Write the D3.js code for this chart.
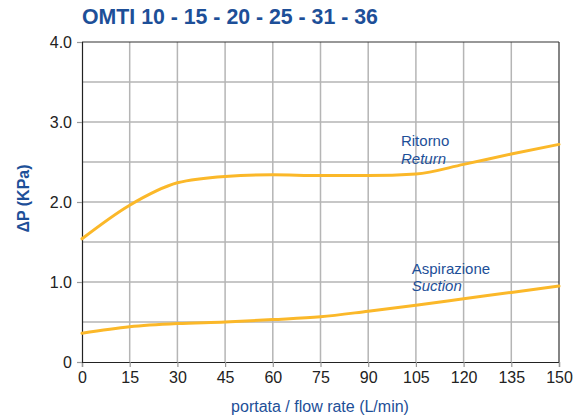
<!DOCTYPE html>
<html><head><meta charset="utf-8">
<script src="https://cdn.jsdelivr.net/npm/d3@7"></script>
<style>
body{margin:0;background:#fff;}
svg{display:block;font-family:"Liberation Sans",Arial,Helvetica,sans-serif;}
</style></head>
<body><svg id="c" width="578" height="419"></svg>
<script>
const title = "OMTI 10 - 15 - 20 - 25 - 31 - 36";
const xLabel = "portata / flow rate (L/min)";
const yLabel = "ΔP (KPa)";
const flow = [0, 15, 30, 45, 60, 75, 90, 105, 120, 135, 150];
const returnDP = [1.54, 1.96, 2.24, 2.32, 2.34, 2.33, 2.33, 2.35, 2.47, 2.60, 2.72];
const suctionDP = [0.36, 0.44, 0.48, 0.50, 0.53, 0.565, 0.635, 0.71, 0.79, 0.87, 0.95];
const xTicks = [0, 15, 30, 45, 60, 75, 90, 105, 120, 135, 150];
const yTicks = [0, 1, 2, 3, 4];
const yTickLabels = ["0", "1.0", "2.0", "3.0", "4.0"];
const yGrid = [0.5, 1, 1.5, 2, 2.5, 3, 3.5];
const labels = [
  {name:"Ritorno", en:"Return", x:100.3, y:2.70},
  {name:"Aspirazione", en:"Suction", x:103.7, y:1.105}
];

const svg = d3.select("#c");
const x = d3.scaleLinear().domain([0,150]).range([82,559]);
const y = d3.scaleLinear().domain([0,4]).range([362,42]);
const blue = "#1d4f98", curve = "#fbb829", grid = "#b5b5b5";

// grid
svg.append("g").selectAll("line").data(xTicks.slice(1,-1)).join("line")
  .attr("x1",d=>x(d)).attr("x2",d=>x(d)).attr("y1",y(0)).attr("y2",y(4))
  .attr("stroke",grid).attr("stroke-width",1.5);
svg.append("g").selectAll("line").data(yGrid).join("line")
  .attr("x1",x(0)).attr("x2",x(150)).attr("y1",d=>y(d)).attr("y2",d=>y(d))
  .attr("stroke",grid).attr("stroke-width",1.5);

// frame top/right
svg.append("line").attr("x1",x(0)).attr("x2",x(150)).attr("y1",y(4)).attr("y2",y(4)).attr("stroke","#333").attr("stroke-width",1.2);
svg.append("line").attr("x1",x(150)).attr("x2",x(150)).attr("y1",y(0)).attr("y2",y(4)).attr("stroke","#333").attr("stroke-width",1.2);

// axes
const xAxis = svg.append("g").attr("transform",`translate(0,${y(0)})`)
  .call(d3.axisBottom(x).tickValues(xTicks).tickSize(5).tickPadding(5).tickFormat(d3.format("d")));
const yAxis = svg.append("g").attr("transform",`translate(${x(0)},0)`)
  .call(d3.axisLeft(y).tickValues(yTicks).tickSize(5).tickPadding(5).tickFormat((d,i)=>yTickLabels[i]));
[xAxis,yAxis].forEach(a=>{
  a.select(".domain").attr("stroke","#222").attr("stroke-width",1.2);
  a.selectAll(".tick line").attr("stroke","#999").attr("stroke-width",1.2);
  a.selectAll("text").attr("fill","#222").style("font-size","16px").style("font-family","Liberation Sans, Arial, sans-serif");
});

// curves
const line = d3.line().x((d,i)=>x(flow[i])).y(d=>y(d)).curve(d3.curveMonotoneX);
[returnDP, suctionDP].forEach(s=>{
  svg.append("path").attr("d",line(s)).attr("fill","none").attr("stroke",curve).attr("stroke-width",3).attr("stroke-linecap","round");
});

// labels
labels.forEach(l=>{
  svg.append("text").attr("x",x(l.x)).attr("y",y(l.y)).attr("fill",blue)
    .style("font-size","15px").text(l.name);
  svg.append("text").attr("x",x(l.x)).attr("y",y(l.y)+17.5).attr("fill",blue)
    .style("font-size","15px").style("font-style","italic").text(l.en);
});

// title
svg.append("text").attr("x",82).attr("y",24).attr("fill",blue)
  .style("font-size","21.3px").style("font-weight","bold").text(title);
// x label
svg.append("text").attr("x",320).attr("y",412).attr("text-anchor","middle").attr("fill",blue)
  .style("font-size","16px").text(xLabel);
// y label
svg.append("text").attr("transform","translate(29,198.5) rotate(-90)").attr("text-anchor","middle").attr("fill",blue)
  .style("font-size","16px").style("font-weight","bold").text(yLabel);
</script></body></html>
